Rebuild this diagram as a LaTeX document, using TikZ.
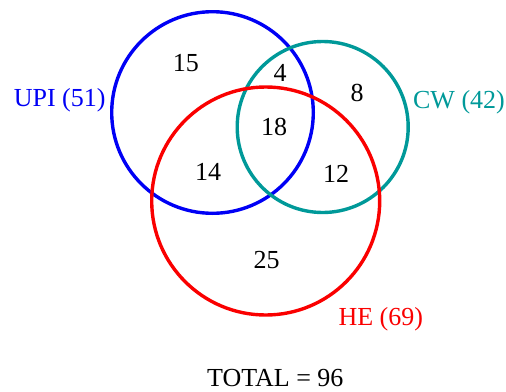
\documentclass[tikz,border=0pt]{standalone}
\usepackage{fontspec}
\setmainfont{Liberation Serif}
\definecolor{upiblue}{RGB}{0,0,245}
\definecolor{cwteal}{RGB}{0,153,153}
\definecolor{hered}{RGB}{250,0,0}
\tikzset{
  setcircle/.style={circle, draw, line width=3.4pt, inner sep=0pt, minimum size=#1},
  lbl/.style={anchor=base, inner sep=0pt, font=\fontsize{26}{26}\selectfont},
}
\begin{document}
\begin{tikzpicture}[x=1pt,y=-1pt]
\useasboundingbox (0,0) rectangle (506,391);
\node[setcircle=201.6pt, upiblue] (upi) at (212.5,112.5) {};
\node[setcircle=171pt, cwteal] (cw) at (322.7,127) {};
\node[setcircle=228pt, hered] (he) at (265.7,201) {};
\node[lbl] (n15) at (185.8,71.7) {15};
\node[lbl] (n4) at (280,81.7) {4};
\node[lbl] (n8) at (357,101.7) {8};
\node[lbl] (n18) at (274,135) {18};
\node[lbl] (n14) at (208,180) {14};
\node[lbl] (n12) at (336,182.7) {12};
\node[lbl] (n25) at (266.7,268.3) {25};
\node[lbl, text=upiblue] (lupi) at (59.7,106) {UPI (51)};
\node[lbl, text=cwteal] (lcw) at (459,108.3) {CW (42)};
\node[lbl, text=hered] (lhe) at (380.8,325) {HE (69)};
\node[lbl] (total) at (275.3,386.5) {TOTAL = 96};
\end{tikzpicture}
\end{document}
